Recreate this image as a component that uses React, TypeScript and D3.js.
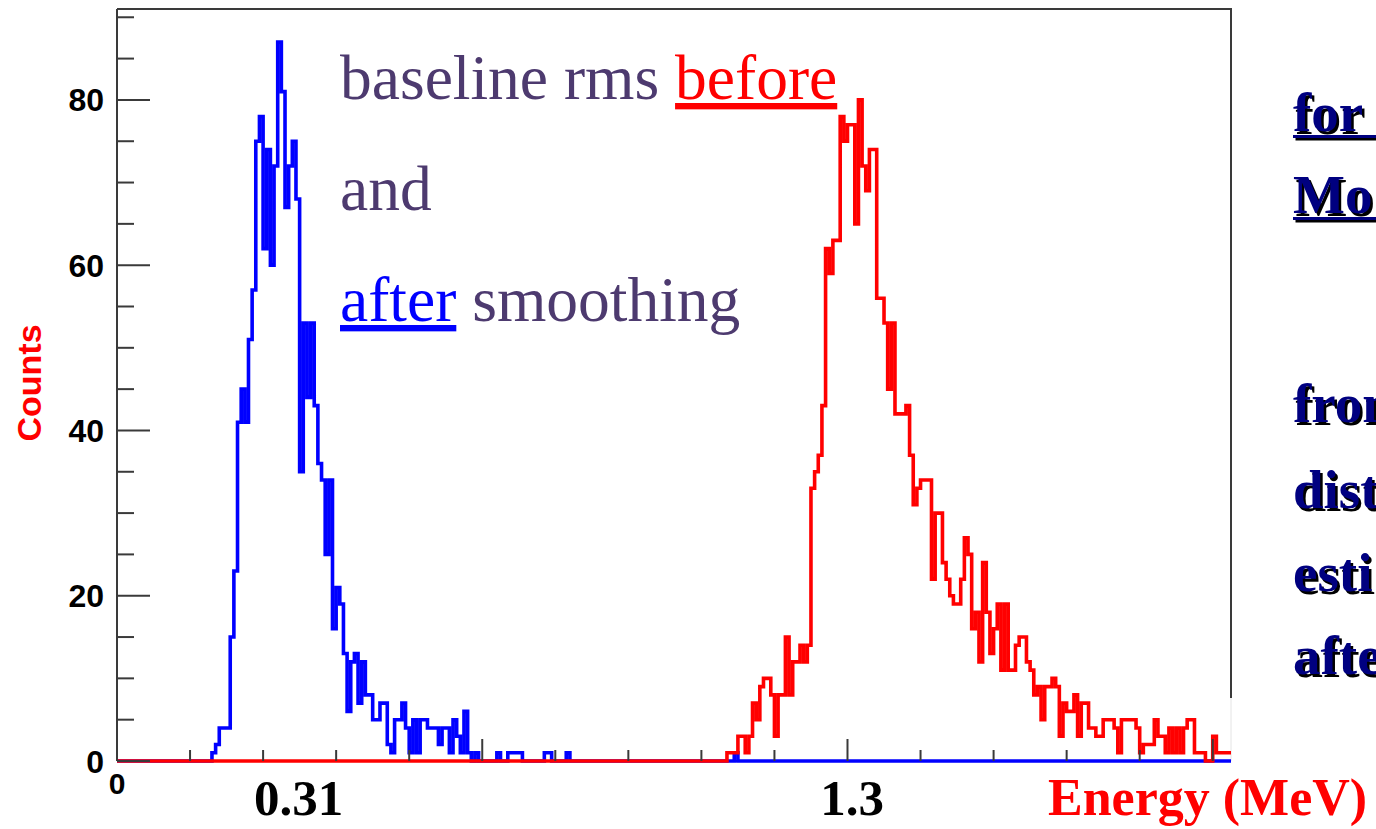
import React from "react";
import * as d3 from "d3";

// ---------------- data ----------------
const NUM_BINS = 305;
const Y_MAX = 91;

// "after smoothing" (blue) counts, starting at bin 26
const blueStart = 26;
const blueCounts = [
  1, 2, 4, 4, 4, 15, 23, 41, 45, 41, 51, 57, 75, 78, 62, 74, 60, 72, 87, 81,
  67, 72, 75, 68, 35, 53, 44, 53, 43, 36, 34, 25, 34, 16, 21, 19, 13, 6, 12, 13,
  7, 12, 8, 8, 5, 5, 7, 7, 2, 1, 5, 5, 7, 4, 1, 5, 1, 5, 5, 4,
  4, 4, 2, 4, 4, 1, 5, 3, 1, 6, 1, 0, 1, 0, 0, 0, 0, 0, 1, 0,
  0, 1, 1, 1, 1, 0, 0, 0, 0, 0, 0, 1, 1, 0, 0, 0, 0, 1,
];
const blueExtraBins = [169];
const blueExtraCounts = [1];

// "before" (red) counts, starting at bin 167
const redStart = 167;
const redCounts = [
  1, 1, 1, 3, 3, 1, 3, 7, 5, 9, 10, 10, 8, 3, 8, 8, 15, 8, 12, 12,
  14, 12, 14, 33, 35, 37, 43, 62, 59, 63, 63, 78, 75, 77, 77, 65, 80, 72, 69, 74,
  74, 56, 56, 53, 45, 53, 42, 42, 42, 43, 37, 31, 33, 34, 34, 34, 22, 30, 30, 24,
  22, 20, 19, 19, 22, 27, 25, 16, 18, 12, 24, 18, 13, 16, 19, 11, 19, 11, 11, 14,
  15, 15, 12, 11, 8, 9, 5, 9, 9, 10, 9, 3, 7, 6, 6, 8, 3, 7, 7, 4,
  4, 3, 3, 5, 5, 5, 4, 1, 5, 5, 5, 5, 4, 1, 2, 2, 2, 5, 3, 3,
  1, 4, 1, 4, 1, 4, 5, 5, 1, 1, 1, 0, 0, 3, 1, 1, 1, 1,
];

const yTickValues = [0, 20, 40, 60, 80];
const yMinorStep = 5;
const xMinorStep = 20;
const xMajorStep = 100;
const xLabelTexts = ["0.31", "1.3"];
const xLabelBins = [49.7, 201.3];

// right-hand text, as far as it is visible in the picture
const rightLines = ["for", "Mo", "from", "dist", "esti", "afte"];
const rightUnderlined = [true, true, false, false, false, false];

// ---------------- layout ----------------
const W = 1376;
const H = 829;
const LEFT = 117;
const RIGHT = 1231;
const TOP = 9;
const BOTTOM = 761;

function fullArray(start: number, vals: number[]) {
  const arr = new Array(NUM_BINS).fill(0);
  vals.forEach((v, i) => {
    if (start + i < NUM_BINS) arr[start + i] = v;
  });
  return arr;
}

export default function App() {
  const x = d3.scaleLinear().domain([0, NUM_BINS]).range([LEFT, RIGHT]);
  const y = d3.scaleLinear().domain([0, Y_MAX]).range([BOTTOM, TOP]);

  const blue = fullArray(blueStart, blueCounts);
  blueExtraBins.forEach((b, i) => (blue[b] = blueExtraCounts[i]));
  const red = fullArray(redStart, redCounts);

  const line = d3
    .line<[number, number]>()
    .x((d) => x(d[0]))
    .y((d) => y(d[1]))
    .curve(d3.curveStepAfter);

  const pts = (arr: number[]): [number, number][] => {
    const p: [number, number][] = arr.map((v, i) => [i, v]);
    p.push([NUM_BINS, arr[NUM_BINS - 1]]);
    return p;
  };

  const yMinor = d3.range(0, Y_MAX + 0.001, yMinorStep);
  const xTicks = d3.range(0, NUM_BINS + 0.001, xMinorStep);

  const axisColor = "#3a3a3a";
  const purple = "#4d3a6f";
  const serif = "'Liberation Serif', 'Times New Roman', serif";
  const sans = "'Liberation Sans', Arial, Helvetica, sans-serif";

  const rightX = 1293;
  const rightBaselines = [131, 213, 422, 508, 591, 674];

  return (
    <svg
      width={W}
      height={H}
      style={{ position: "absolute", left: 0, top: 0, background: "#fff" }}
    >
      <rect x={0} y={0} width={W} height={H} fill="#fff" />

      {/* frame */}
      <line x1={LEFT} x2={RIGHT + 1} y1={TOP} y2={TOP} stroke={axisColor} strokeWidth={2} />
      <line x1={LEFT} x2={LEFT} y1={TOP} y2={BOTTOM} stroke={axisColor} strokeWidth={2} />
      <line x1={RIGHT} x2={RIGHT} y1={TOP} y2={698} stroke={axisColor} strokeWidth={2} />
      <line x1={RIGHT} x2={RIGHT} y1={698} y2={BOTTOM} stroke="#e4e4e4" strokeWidth={1} />
      <line x1={LEFT} x2={RIGHT} y1={BOTTOM} y2={BOTTOM} stroke={axisColor} strokeWidth={2} />

      {/* histograms */}
      <path
        d={line(pts(blue)) || ""}
        fill="none"
        stroke="#0000ff"
        strokeWidth={3.6}
        strokeLinejoin="miter"
      />
      <path
        d={line(pts(red)) || ""}
        fill="none"
        stroke="#ff0000"
        strokeWidth={3.6}
        strokeLinejoin="miter"
      />

      {/* y ticks */}
      {yMinor.map((v) => {
        const major = yTickValues.includes(v);
        return (
          <line
            key={"yt" + v}
            x1={LEFT}
            x2={LEFT + (major ? 33 : 17)}
            y1={y(v)}
            y2={y(v)}
            stroke={axisColor}
            strokeWidth={2}
          />
        );
      })}
      {yTickValues.map((v) => (
        <text
          key={"yl" + v}
          x={104}
          y={y(v) + 11.5}
          textAnchor="end"
          fontFamily={sans}
          fontWeight="bold"
          fontSize={32}
          fill="#000"
        >
          {v}
        </text>
      ))}

      {/* x ticks */}
      {xTicks.map((b) => {
        const major = b % xMajorStep === 0;
        return (
          <line
            key={"xt" + b}
            x1={x(b)}
            x2={x(b)}
            y1={BOTTOM}
            y2={BOTTOM - (major ? 22 : 11)}
            stroke={axisColor}
            strokeWidth={2}
          />
        );
      })}
      <text
        x={117}
        y={794}
        textAnchor="middle"
        fontFamily={sans}
        fontWeight="bold"
        fontSize={30}
        fill="#000"
      >
        0
      </text>

      {/* axis titles */}
      <text
        transform={`translate(41, 383) rotate(-90)`}
        textAnchor="middle"
        fontFamily={sans}
        fontWeight="bold"
        fontSize={34}
        fill="#ff0000"
      >
        Counts
      </text>
      {xLabelTexts.map((t, i) => (
        <text
          key={"xl" + t}
          x={x(xLabelBins[i])}
          y={815}
          textAnchor="middle"
          fontFamily={serif}
          fontWeight="bold"
          fontSize={51}
          fill="#000"
        >
          {t}
        </text>
      ))}
      <text
        x={1048}
        y={815}
        fontFamily={serif}
        fontWeight="bold"
        fontSize={52}
        fill="#ff0000"
      >
        Energy (MeV)
      </text>

      {/* annotation inside plot */}
      <text x={340} y={99} fontFamily={serif} fontSize={63.5} fill={purple}>
        baseline rms{" "}
        <tspan fill="#ff0000" style={{ textDecoration: "underline" }}>
          before
        </tspan>
      </text>
      <text x={340} y={210} fontFamily={serif} fontSize={63.5} fill={purple}>
        and
      </text>
      <text x={340} y={321} fontFamily={serif} fontSize={63.5} fill={purple}>
        <tspan fill="#0000ff" style={{ textDecoration: "underline" }}>
          after
        </tspan>{" "}
        smoothing
      </text>

      {/* right-side text with shadow (cut by the page edge, as in the picture) */}
      {rightLines.map((t, i) => (
        <g key={"rl" + i}>
          <text
            x={rightX + 2.5}
            y={rightBaselines[i] + 2.5}
            fontFamily={serif}
            fontWeight="bold"
            fontSize={55}
            fill="#000"
          >
            {t}
          </text>
          {rightUnderlined[i] && (
            <rect x={rightX + 2.5} y={rightBaselines[i] + 6.5} width={W - rightX} height={3} fill="#000" />
          )}
          <text
            x={rightX}
            y={rightBaselines[i]}
            fontFamily={serif}
            fontWeight="bold"
            fontSize={55}
            fill="#000080"
          >
            {t}
          </text>
          {rightUnderlined[i] && (
            <rect x={rightX} y={rightBaselines[i] + 4} width={W - rightX} height={3} fill="#000080" />
          )}
        </g>
      ))}
    </svg>
  );
}
